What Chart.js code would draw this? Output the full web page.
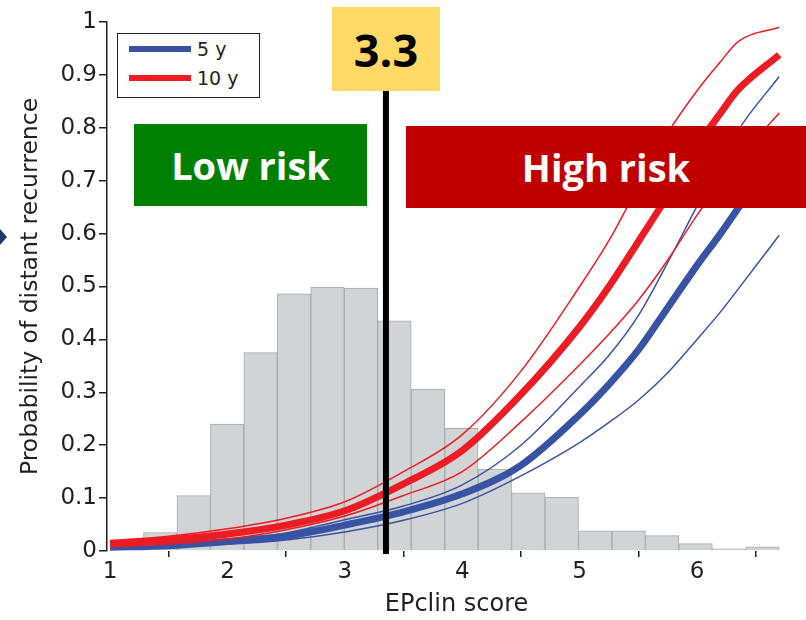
<!DOCTYPE html>
<html>
<head>
<meta charset="utf-8">
<title>EPclin score</title>
<script src="https://cdn.jsdelivr.net/npm/chart.js@4.4.1/dist/chart.umd.min.js"></script>
<style>
    body { margin: 0; background: #fff; }
    .wrap { position: relative; width: 806px; height: 620px; overflow: hidden; }
    .box { position: absolute; display: flex; align-items: center; justify-content: center; font-family: 'Open Sans', sans-serif; font-weight: 700; }
    #low-box { left: 134px; top: 124px; width: 233px; height: 82px; background: #008000; color: #fff; font-size: 38px; }
    #high-box { left: 406px; top: 126px; width: 400px; height: 82px; background: #c00000; color: #fff; font-size: 38px; }
    #cut-box { left: 332px; top: 7px; width: 108px; height: 84px; background: #ffd966; color: #000; font-size: 45px; }
    #legend { position: absolute; left: 117px; top: 33px; width: 141px; height: 63px; border: 1.5px solid #231f20; background: #fff; font-family: 'DejaVu Sans', sans-serif; font-size: 19px; color: #231f20; }
    #legend .row { position: absolute; left: 11px; height: 20px; display: flex; align-items: center; }
    #legend .swatch { width: 62px; height: 6px; margin-right: 6px; }
    #arrow { position: absolute; left: 0; top: 229px; width: 7px; height: 16px; background: #1f3864; clip-path: polygon(0 0, 100% 50%, 0 100%); }
</style>
</head>
<body>
<div class="wrap">
    <canvas id="riskChart" width="806" height="620"></canvas>
    <div id="arrow"></div>
    <div id="legend"></div>
    <div class="box" id="low-box">Low risk</div>
    <div class="box" id="high-box">High risk</div>
    <div class="box" id="cut-box">3.3</div>
</div>
<script>
// histogram of EPclin scores (bin start, height)
const binStarts = [1.0, 1.285, 1.57, 1.855, 2.14, 2.425, 2.71, 2.995, 3.28, 3.565,
                   3.85, 4.135, 4.42, 4.705, 4.99, 5.275, 5.56, 5.845, 6.13, 6.415];
const binWidth = 0.285;
const binHeights = [0, 0.035, 0.105, 0.24, 0.375, 0.486, 0.499, 0.497, 0.435, 0.306,
                    0.232, 0.155, 0.11, 0.102, 0.038, 0.038, 0.029, 0.014, 0.004, 0.008];

// risk curves sampled along the score
const scorePoints = [1, 1.5, 2, 2.5, 3, 3.5, 4, 4.5, 5, 5.25, 5.5, 5.75, 6, 6.2, 6.35, 6.7];
const risk5y      = [0.007, 0.010, 0.018, 0.028, 0.049, 0.074, 0.108, 0.162, 0.258, 0.315, 0.380, 0.460, 0.540, 0.600, 0.648, 0.76];
const risk5yHigh  = [0.010, 0.015, 0.022, 0.034, 0.059, 0.085, 0.125, 0.200, 0.311, 0.370, 0.445, 0.545, 0.652, 0.733, 0.795, 0.897];
const risk5yLow   = [0.004, 0.008, 0.013, 0.021, 0.036, 0.058, 0.090, 0.142, 0.205, 0.243, 0.285, 0.337, 0.400, 0.452, 0.495, 0.597];
const risk10y     = [0.013, 0.021, 0.032, 0.049, 0.076, 0.127, 0.190, 0.296, 0.424, 0.500, 0.585, 0.672, 0.765, 0.828, 0.872, 0.938];
const risk10yHigh = [0.020, 0.028, 0.042, 0.062, 0.093, 0.150, 0.220, 0.340, 0.500, 0.587, 0.690, 0.790, 0.870, 0.925, 0.963, 0.990];
const risk10yLow  = [0.008, 0.013, 0.022, 0.040, 0.066, 0.105, 0.150, 0.244, 0.352, 0.410, 0.474, 0.550, 0.635, 0.695, 0.740, 0.828];

const xTicks = [1, 2, 3, 4, 5, 6];
const yTicks = [0, 0.1, 0.2, 0.3, 0.4, 0.5, 0.6, 0.7, 0.8, 0.9, 1];
const cutoffValue = 3.35;

const blue = '#3953a4';
const red = '#ed1c24';
const ink = '#231f20';
const axisFont = { family: "'DejaVu Sans', sans-serif", size: 23 };

const toPoints = values => values.map((v, i) => ({ x: scorePoints[i], y: v }));

function curve(label, values, color, width, order) {
    return {
        type: 'line', label, data: toPoints(values), borderColor: color, borderWidth: width,
        pointRadius: 0, fill: false, cubicInterpolationMode: 'monotone', order
    };
}

// black cutoff line on top of the curves
const cutoffLine = {
    id: 'cutoffLine',
    afterDatasetsDraw(chart) {
        const { ctx, scales: { x, y } } = chart;
        const px = x.getPixelForValue(cutoffValue);
        ctx.save();
        ctx.fillStyle = '#000';
        ctx.fillRect(px - 3, y.top, 6, y.bottom + 3 - y.top);
        ctx.restore();
    }
};

const ctx = document.getElementById('riskChart').getContext('2d');
const riskChart = new Chart(ctx, {
    type: 'line',
    data: {
        datasets: [
            curve('10 y', risk10y, red, 7, 1),
            curve('10 y upper', risk10yHigh, red, 1.5, 1),
            curve('10 y lower', risk10yLow, red, 1.5, 1),
            curve('5 y', risk5y, blue, 7, 2),
            curve('5 y upper', risk5yHigh, blue, 1.5, 2),
            curve('5 y lower', risk5yLow, blue, 1.5, 2),
            {
                type: 'bar', label: 'EPclin distribution',
                data: binStarts.map((s, i) => ({ x: s + binWidth / 2, y: binHeights[i] })),
                backgroundColor: '#d1d3d4', borderColor: '#a7a9ac', borderWidth: 1,
                barPercentage: 1, categoryPercentage: 1, order: 10
            }
        ]
    },
    options: {
        responsive: false,
        animation: false,
        layout: { padding: { top: 22, right: 0, bottom: 0, left: 0 } },
        plugins: { legend: { display: false }, tooltip: { enabled: false } },
        scales: {
            x: {
                type: 'linear', min: 0.974, max: 6.928, offset: false,
                afterBuildTicks: s => { s.ticks = xTicks.map(v => ({ value: v })); },
                afterFit: s => { s.height = 69; },
                border: { display: false },
                grid: { drawOnChartArea: false, tickLength: 6, color: ink, lineWidth: 1.5 },
                ticks: { padding: 1, color: ink, font: axisFont },
                title: { display: true, text: 'EPclin score', color: ink, font: { family: axisFont.family, size: 24 }, padding: { top: 0, bottom: 1 } }
            },
            y: {
                type: 'linear', min: 0, max: 1,
                afterBuildTicks: s => { s.ticks = yTicks.map(v => ({ value: v })); },
                afterFit: s => { s.width = 107; },
                border: { display: true, color: ink, width: 1.5 },
                grid: { drawOnChartArea: false, tickLength: 8, color: ink, lineWidth: 1.5 },
                ticks: { padding: 2, color: ink, font: axisFont, callback: v => String(v) },
                title: { display: true, text: 'Probability of distant recurrence', color: ink, font: { family: axisFont.family, size: 23.5 }, padding: { top: 17, bottom: 0 } }
            }
        }
    },
    plugins: [cutoffLine]
});

// legend box from the two mean curves
const legend = document.getElementById('legend');
['5 y', '10 y'].forEach((name, i) => {
    const ds = riskChart.data.datasets.find(d => d.label === name);
    const row = document.createElement('div');
    row.className = 'row';
    row.style.top = (i === 0 ? 5 : 34) + 'px';
    row.innerHTML = `<div class="swatch" style="background:${ds.borderColor}"></div><span>${name}</span>`;
    legend.appendChild(row);
});
</script>
</body>
</html>
